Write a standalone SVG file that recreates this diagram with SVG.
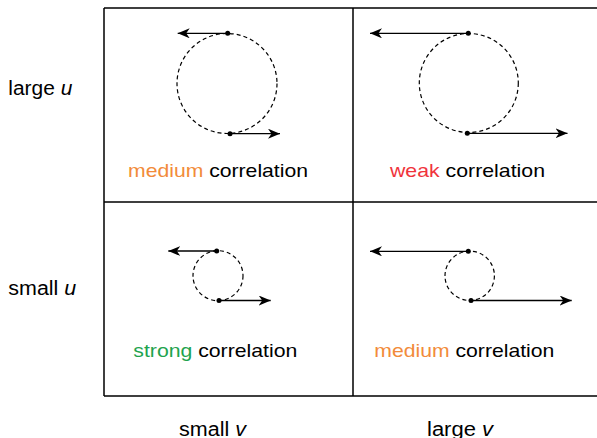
<svg xmlns="http://www.w3.org/2000/svg" width="597" height="438" viewBox="0 0 597 438">
<defs>
<style>
.grid{stroke:#000;stroke-width:1.5;fill:none}
.orbit{fill:none;stroke:#000;stroke-width:1.2;stroke-dasharray:4 3}
.arr{stroke:#000;stroke-width:1.3;fill:none;marker-end:url(#ah)}
.dot{fill:#000}
text{font-family:"Liberation Sans",Arial,sans-serif;fill:#000}
.cell{font-size:18.5px}
.axis{font-size:20px}
.med{fill:#F28B3A}
.weak{fill:#F0343C}
.strong{fill:#1EA34E}
</style>
<marker id="ah" markerWidth="13" markerHeight="12" refX="12" refY="5" orient="auto" markerUnits="userSpaceOnUse">
<path d="M0,0 L12,5 L0,10 L3.5,5 z" fill="#000"/>
</marker>
</defs>
<g id="grid">
<path class="grid" d="M104,8 H600 M104,396 H600 M104,8 V396 M353,8 V396 M104,202 H600"/>
</g>
<g id="axis-labels">
<text class="axis" x="8.3" y="95" textLength="64" lengthAdjust="spacingAndGlyphs">large <tspan font-style="italic">u</tspan></text>
<text class="axis" x="8.3" y="295" textLength="68" lengthAdjust="spacingAndGlyphs">small <tspan font-style="italic">u</tspan></text>
<text class="axis" x="179" y="436" textLength="67" lengthAdjust="spacingAndGlyphs">small <tspan font-style="italic">v</tspan></text>
<text class="axis" x="427" y="436" textLength="66" lengthAdjust="spacingAndGlyphs">large <tspan font-style="italic">v</tspan></text>
</g>
<g id="cell-large-u-small-v">
<circle class="orbit" cx="227" cy="83.5" r="50"/>
<path class="arr" d="M227.7,33.3 H177.7"/>
<path class="arr" d="M230,133.7 H280"/>
<circle class="dot" cx="227.7" cy="33.3" r="2.5"/>
<circle class="dot" cx="230" cy="133.7" r="2.5"/>
<text class="cell" x="128" y="177" textLength="180" lengthAdjust="spacingAndGlyphs"><tspan class="med">medium</tspan> correlation</text>
</g>
<g id="cell-large-u-large-v">
<circle class="orbit" cx="468.8" cy="83" r="49.5"/>
<path class="arr" d="M468.3,33.3 H370"/>
<path class="arr" d="M467.3,133.3 H567.5"/>
<circle class="dot" cx="468.3" cy="33.3" r="2.5"/>
<circle class="dot" cx="467.3" cy="133.3" r="2.5"/>
<text class="cell" x="390" y="177" textLength="155" lengthAdjust="spacingAndGlyphs"><tspan class="weak">weak</tspan> correlation</text>
</g>
<g id="cell-small-u-small-v">
<circle class="orbit" cx="218" cy="275.7" r="25"/>
<path class="arr" d="M216.7,251 H168.3"/>
<path class="arr" d="M219,300.5 H270.7"/>
<circle class="dot" cx="216.7" cy="251" r="2.5"/>
<circle class="dot" cx="219" cy="300.5" r="2.5"/>
<text class="cell" x="133.3" y="357.3" textLength="164" lengthAdjust="spacingAndGlyphs"><tspan class="strong">strong</tspan> correlation</text>
</g>
<g id="cell-small-u-large-v">
<circle class="orbit" cx="469.7" cy="275.8" r="24.7"/>
<path class="arr" d="M468.3,251.3 H370"/>
<path class="arr" d="M471,300.5 H571.7"/>
<circle class="dot" cx="468.3" cy="251.3" r="2.5"/>
<circle class="dot" cx="471" cy="300.5" r="2.5"/>
<text class="cell" x="374.3" y="357.3" textLength="180" lengthAdjust="spacingAndGlyphs"><tspan class="med">medium</tspan> correlation</text>
</g>
</svg>
